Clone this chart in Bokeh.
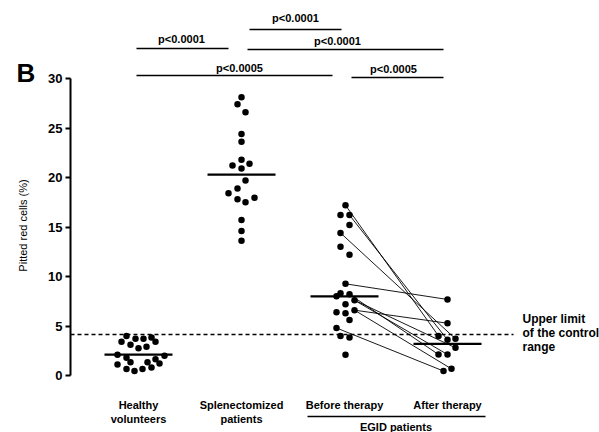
import math
from bokeh.plotting import figure
from bokeh.layouts import row
from bokeh.models import LinearAxis, FixedTicker, Range1d
from bokeh.core.properties import value
from bokeh.embed import file_html
from bokeh.resources import INLINE

# ---------------- data ----------------
categories_line1 = ["Healthy", "Splenectomized", "Before therapy", "After therapy"]
categories_line2 = ["volunteers", "patients", "", ""]
group_label = "EGID patients"
y_label = "Pitted red cells (%)"
panel_letter = "B"
y_ticks = [0, 5, 10, 15, 20, 25, 30]

healthy_values = [4.0, 3.7, 3.7, 3.85, 3.4, 3.1, 2.75, 2.9, 3.4, 2.1, 1.8, 1.35, 1.35,
                  1.65, 2.0, 1.1, 0.65, 0.45, 0.65, 0.8, 1.2]
splenectomized_values = [28.1, 27.4, 26.6, 24.4, 23.6, 21.2, 21.8, 21.4, 20.9, 19.7,
                         18.4, 18.9, 17.8, 17.5, 17.95, 15.7, 14.6, 13.6]
before_values = [17.2, 16.2, 16.2, 15.2, 14.4, 13.0, 12.2, 9.26, 8.3, 8.0, 8.2, 7.6,
                 7.2, 6.4, 6.3, 6.6, 5.6, 4.8, 4.0, 3.85, 2.1]
after_values = [7.68, 5.28, 4.0, 3.6, 3.7, 2.8, 2.12, 2.12, 0.45, 0.67]

# paired patients: index in before_values -> index in after_values
pair_before = [0, 2, 4, 7, 15, 11, 11, 10, 15, 17]
pair_after = [2, 3, 4, 0, 1, 5, 7, 6, 9, 8]

group_means = [2.1, 20.3, 8.0, 3.2]
control_upper_limit = 4.14

bracket_text = ["p<0.0001", "p<0.0001", "p<0.0001", "p<0.0005", "p<0.0005"]
limit_text = ["Upper limit", "of the control", "range"]

# horizontal scatter of the dots inside each column (pixels)
healthy_jitter = [-12, -3, 5, 13, -17, -8, 0, 8, 17, -21, -12, -8, 9, 17, 26, -21,
                  -12, -4, 4, 13, 21]
splenectomized_jitter = [0, -4, 4, 0, 0, -9, 0, 8, 0, 4, -13, -4, -4, 4, 13, 0, 0, 0]
before_jitter = [1, -4, 5, 5, -4, -4, 5, 1, -4, -8, 5, 10, 1, -8, 1, 10, 5, -8, -4, 5, 1]
after_jitter = [0, 0, -9, 0, 8, 8, -9, 0, -4, 4]

# ---------------- layout ----------------
FONT = "Liberation Sans"
TOTAL_W, H = 599, 432
LEFT_W = 40          # narrow side panel holding the letter and the y title
AXIS_PANEL = 30      # space for ticks and tick labels
FRAME_X0 = LEFT_W + AXIS_PANEL
CAT_PX = 103.0
Y_PX = 9.9


def px_x(px):
    return 1 + (px - 138) / CAT_PX


def px_y(py):
    return (375 - py) / Y_PX


def clean(fig):
    fig.outline_line_color = None
    fig.background_fill_color = "white"
    fig.border_fill_color = "white"
    fig.grid.visible = False


# side panel: letter and rotated axis title
side = figure(width=LEFT_W, height=H, x_range=Range1d(0, LEFT_W), y_range=Range1d(H, 0),
              output_backend="svg", toolbar_location=None,
              x_axis_location=None, y_axis_location=None,
              min_border_left=0, min_border_right=0, min_border_top=0, min_border_bottom=0)
clean(side)
side.text(x=[16], y=[72], text=[panel_letter], text_font=value(FONT),
          text_font_size="26px", text_font_style="bold", text_align="left",
          text_baseline="alphabetic", text_color="black")
side.text(x=[22], y=[225], text=[y_label], angle=math.pi / 2, text_font=value(FONT),
          text_font_size="11px", text_font_style="normal", text_align="center",
          text_baseline="middle", text_color="black")

p = figure(width=TOTAL_W - LEFT_W, height=H,
           x_range=Range1d(px_x(FRAME_X0), px_x(TOTAL_W)),
           y_range=Range1d(px_y(H), px_y(0)),
           output_backend="svg", toolbar_location=None,
           x_axis_location=None, y_axis_location=None,
           min_border_left=AXIS_PANEL, min_border_right=0,
           min_border_top=0, min_border_bottom=0)
clean(p)

yaxis = LinearAxis(bounds=(0, 30), ticker=FixedTicker(ticks=y_ticks))
yaxis.axis_line_width = 2
yaxis.axis_line_color = "black"
yaxis.major_tick_line_width = 2
yaxis.major_tick_line_color = "black"
yaxis.major_tick_out = 5
yaxis.major_tick_in = 0
yaxis.minor_tick_out = 0
yaxis.minor_tick_in = 0
yaxis.major_label_standoff = 3
yaxis.major_label_text_font = FONT
yaxis.major_label_text_font_size = "13px"
yaxis.major_label_text_font_style = "bold"
yaxis.major_label_text_color = "black"
p.add_layout(yaxis, "left")

# dashed control limit
p.segment(x0=[px_x(FRAME_X0)], y0=[control_upper_limit], x1=[px_x(513)],
          y1=[control_upper_limit], line_color="black", line_width=1.3, line_dash="4 3")


def xs(cat, jit):
    return [cat + j / CAT_PX for j in jit]


hx = xs(1, healthy_jitter)
sx = xs(2, splenectomized_jitter)
bx = xs(3, before_jitter)
ax = xs(4, after_jitter)

# paired lines
p.segment(x0=[bx[i] for i in pair_before], y0=[before_values[i] for i in pair_before],
          x1=[ax[j] for j in pair_after], y1=[after_values[j] for j in pair_after],
          line_color="black", line_width=0.9)

# mean lines
cats = [1, 2, 3, 4]
half = 34 / CAT_PX
p.segment(x0=[c - half for c in cats], y0=group_means, x1=[c + half for c in cats],
          y1=group_means, line_color="black", line_width=2.2)

# dots
for xv, yv in [(hx, healthy_values), (sx, splenectomized_values),
               (bx, before_values), (ax, after_values)]:
    p.scatter(x=xv, y=yv, size=6.5, marker="circle", fill_color="black", line_color=None)

# category labels
p.text(x=cats, y=[px_y(404)] * 4, text=categories_line1, text_font=value(FONT),
       text_font_size="11px", text_font_style="bold", text_align="center",
       text_baseline="middle", text_color="black")
p.text(x=cats[:2], y=[px_y(418)] * 2, text=categories_line2[:2], text_font=value(FONT),
       text_font_size="11px", text_font_style="bold", text_align="center",
       text_baseline="middle", text_color="black")
p.segment(x0=[px_x(307)], y0=[px_y(416)], x1=[px_x(485)], y1=[px_y(416)],
          line_color="black", line_width=1.5)
p.text(x=[3.5], y=[px_y(426)], text=[group_label], text_font=value(FONT),
       text_font_size="11px", text_font_style="bold", text_align="center",
       text_baseline="middle", text_color="black")

# significance brackets
br_x0 = [px_x(v) for v in [136, 249, 247, 136, 351]]
br_x1 = [px_x(v) for v in [228, 341, 443, 332, 443]]
br_y = [px_y(v) for v in [48, 29, 49, 75, 77]]
br_tx = [px_x(v) for v in [181, 295, 337, 239, 393]]
br_ty = [px_y(v) for v in [38, 17, 40, 67, 68]]
p.segment(x0=br_x0, y0=br_y, x1=br_x1, y1=br_y, line_color="black", line_width=1.3)
p.text(x=br_tx, y=br_ty, text=bracket_text, text_font=value(FONT), text_font_size="11px",
       text_font_style="bold", text_align="center", text_baseline="middle",
       text_color="black")

# upper-limit annotation
p.text(x=[px_x(522)] * 3, y=[px_y(v) for v in [318, 332, 346]], text=limit_text,
       text_font=value(FONT), text_font_size="12px", text_font_style="bold",
       text_align="left", text_baseline="middle", text_color="black")

layout = row(side, p, spacing=0)
open("out.html", "w").write(file_html(layout, INLINE))
